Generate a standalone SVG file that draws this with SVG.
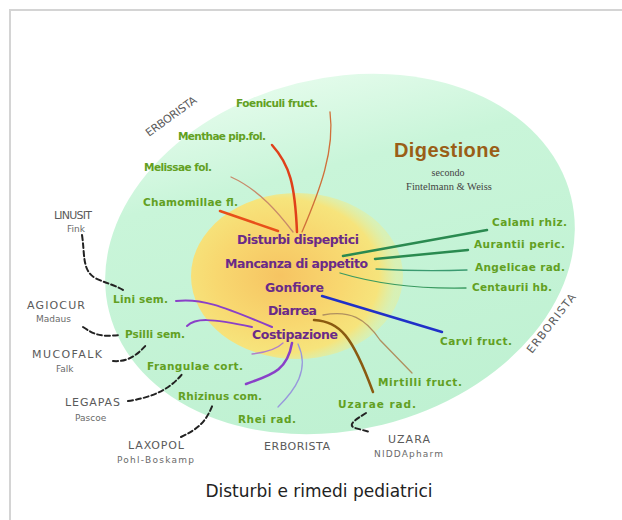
<svg xmlns="http://www.w3.org/2000/svg" width="622" height="520" viewBox="0 0 622 520">
<defs>
<linearGradient id="gGreen" x1="0" y1="0" x2="0" y2="1">
<stop offset="0" stop-color="#e2fbea"/>
<stop offset="0.25" stop-color="#c9f5d9"/>
<stop offset="1" stop-color="#bff1d2"/>
</linearGradient>
<radialGradient id="gYellow" cx="0.42" cy="0.5" r="0.55">
<stop offset="0" stop-color="#f6c462"/>
<stop offset="0.55" stop-color="#f8d870"/>
<stop offset="0.85" stop-color="#f6e47c"/>
<stop offset="1" stop-color="#e4efa0" stop-opacity="0.6"/>
</radialGradient>
<style>
.g{font-family:"DejaVu Sans",sans-serif;font-weight:bold;font-size:10.5px;fill:#62a022}
.p{font-family:"DejaVu Sans",sans-serif;font-weight:bold;font-size:12.5px;fill:#6a2a88}
.k{font-family:"DejaVu Sans",sans-serif;font-size:11px;fill:#5a5a5a}
.ks{font-family:"DejaVu Sans",sans-serif;font-size:9px;fill:#6a6a6a}
.d{fill:none;stroke:#222;stroke-width:2;stroke-dasharray:5 3}
.c{fill:none;stroke-linecap:round}
</style>
</defs>
<rect x="10" y="10" width="640" height="540" fill="#fff" stroke="#d4d4d4" stroke-width="2"/>
<g id="background">
<ellipse cx="340" cy="254" rx="238" ry="176" transform="rotate(-14 340 254)" fill="url(#gGreen)"/>
<ellipse cx="297" cy="276" rx="106" ry="83" fill="url(#gYellow)"/>
</g>
<g id="connectors" class="c">
<path d="M330,112 C335,150 320,190 302,232" stroke="#d0703a" stroke-width="1.3"/>
<path d="M272,145 C290,165 295,185 297,232" stroke="#e0401a" stroke-width="2.5"/>
<path d="M231,177 C260,190 280,215 293,232" stroke="#c88a6a" stroke-width="1.3"/>
<path d="M220,211 L278,231" stroke="#e8501a" stroke-width="2.5"/>
<path d="M343,256 L487,230" stroke="#2a8a50" stroke-width="2.5"/>
<path d="M375,259 L468,250" stroke="#2a8a50" stroke-width="2.5"/>
<path d="M376,269 C410,271 440,271 467,270" stroke="#3a9a70" stroke-width="1.3"/>
<path d="M340,273 C380,285 420,289 466,288" stroke="#3a9a60" stroke-width="1.3"/>
<path d="M322,296 L442,332" stroke="#2030c8" stroke-width="2.5"/>
<path d="M323,315 C350,310 365,318 380,340 L412,373" stroke="#b09060" stroke-width="1.3"/>
<path d="M314,320 C340,322 352,335 373,392" stroke="#8a5a10" stroke-width="2.5"/>
<path d="M176,301 C200,298 220,305 272,327" stroke="#8a40c8" stroke-width="2"/>
<path d="M187,326 C195,318 210,318 252,327" stroke="#8a40c8" stroke-width="2"/>
<path d="M252,354 C270,352 278,348 283,343" stroke="#b080c8" stroke-width="1.3"/>
<path d="M246,384 C270,375 287,372 292,343" stroke="#8a40c8" stroke-width="2.5"/>
<path d="M278,407 C295,390 310,370 298,344" stroke="#9898dc" stroke-width="1.3"/>
<path class="d" d="M82,235 C85,255 82,270 95,278 C105,283 115,285 123,290"/>
<path class="d" d="M83,327 C95,335 100,337 120,335"/>
<path class="d" d="M113,361 C125,362 135,358 147,344"/>
<path class="d" d="M128,401 C150,398 170,390 183,373" stroke="#555" stroke-width="1.2"/>
<path class="d" d="M181,437 C195,430 205,425 213,404"/>
<path class="d" d="M366,413 C355,420 347,425 355,428 L370,432"/>
</g>
<g id="title-digestione">
<text x="394" y="157" font-family="Liberation Sans, Arial, sans-serif" font-weight="bold" font-size="20" fill="#9a5e16" textLength="106">Digestione</text>
<text x="448" y="176" text-anchor="middle" font-family="Liberation Serif, serif" font-size="10" fill="#444">secondo</text>
<text x="449" y="190" text-anchor="middle" font-family="Liberation Serif, serif" font-size="10.5" fill="#444">Fintelmann &amp; Weiss</text>
</g>
<g id="symptoms">
<text class="p" x="237" y="244" textLength="122">Disturbi dispeptici</text>
<text class="p" x="225" y="268" textLength="143">Mancanza di appetito</text>
<text class="p" x="265" y="292" textLength="59">Gonfiore</text>
<text class="p" x="268" y="315" textLength="49">Diarrea</text>
<text class="p" x="252" y="339" textLength="86">Costipazione</text>
</g>
<g id="herbs">
<text class="g" x="236" y="107" textLength="82">Foeniculi fruct.</text>
<text class="g" x="178" y="140" textLength="88">Menthae pip.fol.</text>
<text class="g" x="144" y="171" textLength="68">Melissae fol.</text>
<text class="g" x="143" y="206" textLength="95">Chamomillae fl.</text>
<text class="g" x="113" y="303" textLength="55">Lini sem.</text>
<text class="g" x="125" y="338" textLength="60">Psilli sem.</text>
<text class="g" x="147" y="370" textLength="96">Frangulae cort.</text>
<text class="g" x="178" y="400" textLength="84">Rhizinus com.</text>
<text class="g" x="238" y="423" textLength="58">Rhei rad.</text>
<text class="g" x="338" y="408" textLength="78">Uzarae rad.</text>
<text class="g" x="378" y="386" textLength="84">Mirtilli fruct.</text>
<text class="g" x="440" y="345" textLength="72">Carvi fruct.</text>
<text class="g" x="472" y="291" textLength="80">Centaurii hb.</text>
<text class="g" x="475" y="271" textLength="90">Angelicae rad.</text>
<text class="g" x="474" y="248" textLength="91">Aurantii peric.</text>
<text class="g" x="492" y="226" textLength="75">Calami rhiz.</text>
</g>
<g id="products">
<text class="k" x="54" y="219" textLength="38">LINUSIT</text>
<text class="ks" x="67" y="232">Fink</text>
<text class="k" x="27" y="309" textLength="58">AGIOCUR</text>
<text class="ks" x="36" y="322">Madaus</text>
<text class="k" x="32" y="358" textLength="70">MUCOFALK</text>
<text class="ks" x="56" y="372">Falk</text>
<text class="k" x="65" y="406" textLength="55">LEGAPAS</text>
<text class="ks" x="75" y="421">Pascoe</text>
<text class="k" x="128" y="449" textLength="56">LAXOPOL</text>
<text class="ks" x="117" y="463" textLength="77">Pohl-Boskamp</text>
<text class="k" x="388" y="443" textLength="42">UZARA</text>
<text class="ks" x="374" y="457" textLength="69">NIDDApharm</text>
</g>
<g id="erborista">
<text class="k" x="264" y="450" textLength="66">ERBORISTA</text>
<text class="k" transform="translate(149,137) rotate(-36)" textLength="60">ERBORISTA</text>
<text class="k" transform="translate(532,354) rotate(-52)" textLength="72">ERBORISTA</text>
</g>
<text x="319" y="497" text-anchor="middle" font-family="DejaVu Sans, Verdana, sans-serif" font-size="17" fill="#222">Disturbi e rimedi pediatrici</text>
</svg>
